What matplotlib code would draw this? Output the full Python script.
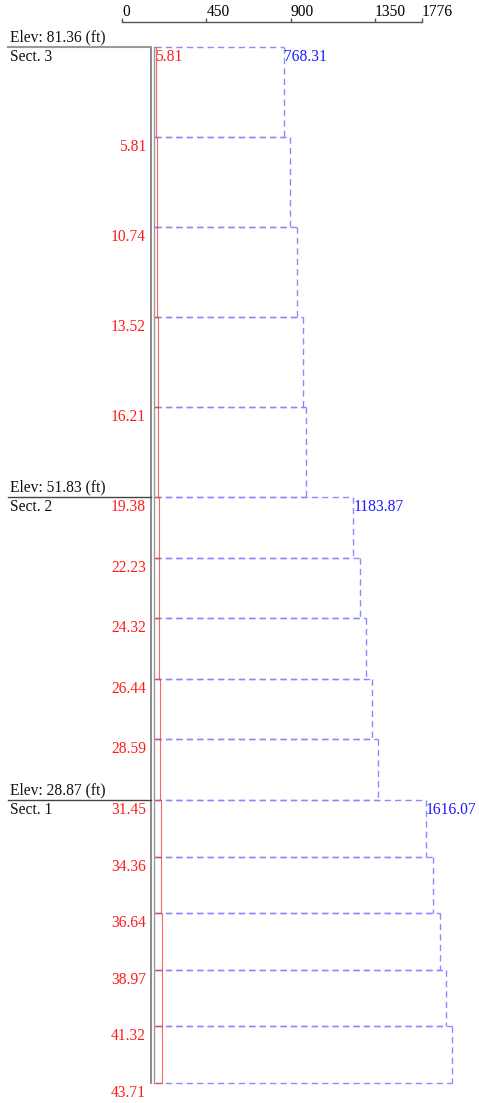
import matplotlib
matplotlib.use("Agg")
import matplotlib.pyplot as plt
from matplotlib.transforms import blended_transform_factory

# section data, top section first
sections = ["Sect. 3", "Sect. 2", "Sect. 1"]
elevations = [81.36, 51.83, 28.87]
segs_per_section = [5, 5, 5]

# blue (dashed) value per segment, top to bottom
blue_vals = [768.31, 808, 848, 884, 902,
             1183.87, 1223, 1258, 1297, 1331,
             1616.07, 1660, 1700, 1740, 1776]
# red value at every node, top to bottom
red_vals = [5.81, 5.81, 10.74, 13.52, 16.21, 19.38, 22.23, 24.32,
            26.44, 28.59, 31.45, 34.36, 36.64, 38.97, 41.32, 43.71]

axis_ticks = [0, 450, 900, 1350]
axis_max = 1776

# layout (pixels)
W, H = 479, 1103
x0 = 155          # pixel of zero force
sc = 0.1675       # pixels per unit
top_y = 47
seg_h = [90.0, 60.6, 56.6]

plt.rcParams["font.family"] = ["Liberation Serif", "DejaVu Serif"]
fs = 11.2

fig = plt.figure(figsize=(W / 100, H / 100), dpi=100)
ax = fig.add_axes([0, 0, 1, 1])
ax.set_xlim(-x0 / sc, (W - x0) / sc)
ax.set_ylim(H, 0)
ax.axis("off")


def px(x):
    return (x - x0) / sc


# node positions
nodes = [top_y]
sec_start = []
for s, n in enumerate(segs_per_section):
    sec_start.append(len(nodes) - 1)
    for _ in range(n):
        nodes.append(nodes[-1] + seg_h[s])

blue_line = "#8a8aff"
red_line = "#ff3030"
dash = (0, (4.5, 3))

# force steps per segment; horizontals all start at the shaft so the
# dash pattern lines up where neighbouring segments share an edge
for i in range(len(blue_vals)):
    y1, y2 = nodes[i], nodes[i + 1]
    v = blue_vals[i]
    ax.plot([0, v], [y1, y1], color=blue_line, lw=1.0, ls=dash)
    ax.plot([v, v], [y1, y2], color=blue_line, lw=1.0, ls=dash)
    ax.plot([0, v], [y2, y2], color=blue_line, lw=1.0, ls=dash)
    r = red_vals[i + 1]
    ax.plot([0, r, r, 0], [y1, y1, y2, y2], color=red_line, lw=0.8, alpha=0.75)

# tower shaft
ax.plot([px(151), px(151)], [nodes[0], nodes[-1]], color="#777777", lw=1.2)
ax.plot([px(153.8), px(153.8)], [nodes[0], nodes[-1]], color="#999999", lw=1.0)

# red labels at nodes
for i, v in enumerate(red_vals):
    if i == 0:
        ax.text(px(155), nodes[i] + 2, f"{v:.2f}", color="#ff1a1a",
                fontsize=fs, ha="left", va="top")
    else:
        ax.text(px(146), nodes[i] + 2, f"{v:.2f}", color="#ff1a1a",
                fontsize=fs, ha="right", va="top")

# section headers and blue labels
bt = blended_transform_factory(ax.transAxes, ax.transData)
for s, name in enumerate(sections):
    k = sec_start[s]
    y = nodes[k]
    col = "#999999" if s == 0 else "#444444"
    ax.plot([px(8), px(151)], [y, y], color=col, lw=1.5 if s == 0 else 1.0)
    ax.text(10 / W, y - 1.5, f"Elev: {elevations[s]:.2f} (ft)", transform=bt,
            fontsize=fs, ha="left", va="bottom", color="#111111")
    ax.text(10 / W, y + 2, name, transform=bt, fontsize=fs,
            ha="left", va="top", color="#111111")
    ax.text(blue_vals[k], y + 2, f"{blue_vals[k]:.2f}", color="#1a1aff",
            fontsize=fs, ha="left", va="top")

# scale bar along the top
end_px = 422
span = axis_ticks[-1] * (end_px - 122) / (375 - 122)
sax = fig.add_axes([122 / W, 1 - 22.5 / H, (end_px - 122) / W, 0.0001])
sax.set_xlim(0, span)
sax.set_ylim(0, 1)
for side in ["left", "right", "bottom"]:
    sax.spines[side].set_visible(False)
sax.spines["top"].set_color("#555555")
sax.spines["top"].set_linewidth(1.0)
sax.set_yticks([])
sax.xaxis.tick_top()
sax.set_xticks(axis_ticks + [span])
sax.set_xticklabels([str(t) for t in axis_ticks] + [str(axis_max)])
sax.tick_params(axis="x", direction="out", length=2.8, width=1, color="#555555",
                labelsize=fs, pad=1.5)
for lab in sax.get_xticklabels():
    lab.set_horizontalalignment("left")
    lab.set_verticalalignment("baseline")

fig.savefig("out.png", dpi=100)
